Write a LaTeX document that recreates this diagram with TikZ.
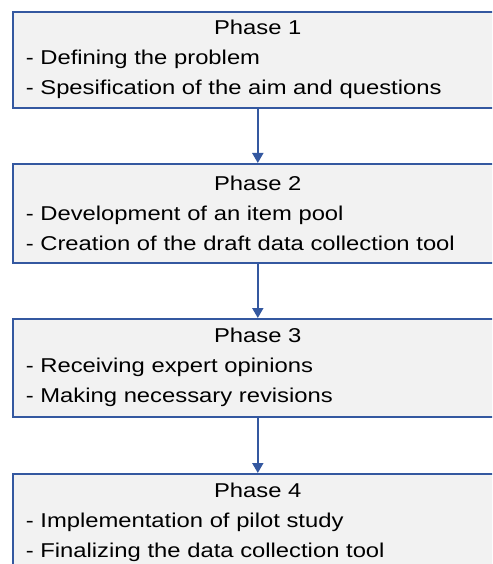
\documentclass[tikz,border=0pt]{standalone}
\usepackage{fontspec}
\setmainfont{Liberation Sans}[FakeStretch=1.19]
\usetikzlibrary{arrows.meta}
\definecolor{phaseblue}{RGB}{52,88,160}
\definecolor{phasefill}{RGB}{242,242,242}
\tikzset{
  phasebox/.style={draw=phaseblue, fill=phasefill, line width=1.6pt,
    rectangle, anchor=north west, minimum width=490pt,
    text width=464pt, inner xsep=13pt, inner ysep=0pt, align=left,
    font=\fontsize{20}{30}\selectfont},
  flow/.style={draw=phaseblue, line width=1.8pt,
    -{Triangle[width=11pt,length=10pt]}}
}
\newcommand{\phasetitle}[1]{\makebox[464pt][c]{#1}}
\begin{document}
\begin{tikzpicture}[x=1pt,y=-1pt]
  \useasboundingbox (0,0) rectangle (492,564);
  \clip (0,0) rectangle (492,564);
  \fill[white] (0,0) rectangle (492,564);

  \node[phasebox, minimum height=96pt] (p1) at (12,11)
    {\phasetitle{Phase 1}\\
     - Defining the problem\\
     - Spesification of the aim and questions};
  \node[phasebox, minimum height=99pt] (p2) at (12,163)
    {\phasetitle{Phase 2}\\
     - Development of an item pool\\
     - Creation of the draft data collection tool};
  \node[phasebox, minimum height=98pt] (p3) at (12,318)
    {\phasetitle{Phase 3}\\
     - Receiving expert opinions\\
     - Making necessary revisions};
  \node[phasebox, minimum height=98pt] (p4) at (12,473)
    {\phasetitle{Phase 4}\\
     - Implementation of pilot study\\
     - Finalizing the data collection tool};

  \draw[flow] (p1.south) -- (p2.north);
  \draw[flow] (p2.south) -- (p3.north);
  \draw[flow] (p3.south) -- (p4.north);
\end{tikzpicture}
\end{document}
